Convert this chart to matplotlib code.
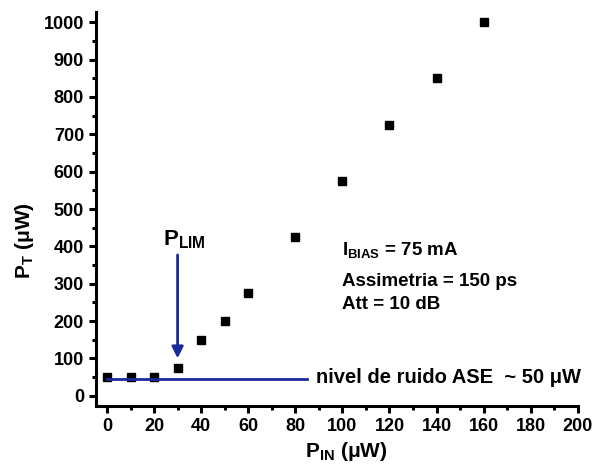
import matplotlib
matplotlib.use('Agg')
import matplotlib.pyplot as plt
from matplotlib.ticker import MultipleLocator

plt.rcParams['font.family'] = 'Liberation Sans'
plt.rcParams['font.weight'] = 'bold'
plt.rcParams['axes.labelweight'] = 'bold'
plt.rcParams['mathtext.fontset'] = 'custom'
plt.rcParams['mathtext.rm'] = 'Liberation Sans:bold'
plt.rcParams['mathtext.it'] = 'Liberation Sans:bold'
plt.rcParams['mathtext.bf'] = 'Liberation Sans:bold'

# dados
p_in = [0, 10, 20, 30, 40, 50, 60, 80, 100, 120, 140, 160]
p_t = [50, 50, 50, 75, 150, 200, 275, 425, 575, 725, 850, 1000]

ruido = 45          # nivel de ruido ASE
ruido_x = [0, 85]
p_lim = 30
seta_y = [377, 100]

azul = '#1a2a9a'

fig = plt.figure(figsize=(5.92, 4.75), dpi=100)
ax = fig.add_axes([0.162, 0.145, 0.814, 0.83])

ax.plot(p_in, p_t, 's', color='black', markersize=6)
ax.plot(ruido_x, [ruido, ruido], color=azul, lw=2)
ax.annotate('', xy=(p_lim, seta_y[1]), xytext=(p_lim, seta_y[0]),
            arrowprops=dict(arrowstyle='-|>', color=azul, lw=2,
                            mutation_scale=17, shrinkA=0, shrinkB=0))

ax.text(24, 417, r'P$_\mathregular{LIM}$', fontsize=16, ha='left', va='center')
ax.text(100, 390, r'I$_\mathregular{BIAS}$ = 75 mA', fontsize=13.5, ha='left', va='center')
ax.text(100, 307, 'Assimetria = 150 ps', fontsize=13.5, ha='left', va='center')
ax.text(100, 243, 'Att = 10 dB', fontsize=13.5, ha='left', va='center')
ax.text(89, 50, 'nivel de ruido ASE  ~ 50 μW', fontsize=14.5, ha='left', va='center')

ax.set_xlim(-4.7, 200)
ax.set_ylim(-28, 1028)
ax.xaxis.set_major_locator(MultipleLocator(20))
ax.xaxis.set_minor_locator(MultipleLocator(10))
ax.yaxis.set_major_locator(MultipleLocator(100))
ax.yaxis.set_minor_locator(MultipleLocator(50))

for s in ['top', 'right']:
    ax.spines[s].set_visible(False)
for s in ['left', 'bottom']:
    ax.spines[s].set_linewidth(2.2)
ax.tick_params(which='major', direction='out', length=5, width=2.2, labelsize=13)
ax.tick_params(which='minor', direction='out', length=3, width=2.2)

ax.set_xlabel(r'P$_\mathregular{IN}$ (μW)', fontsize=15)
ax.set_ylabel(r'P$_\mathregular{T}$ (μW)', fontsize=15)
ax.xaxis.set_label_coords(0.52, -0.086)
ax.yaxis.set_label_coords(-0.125, 0.42)

fig.savefig('out.png', dpi=100)
